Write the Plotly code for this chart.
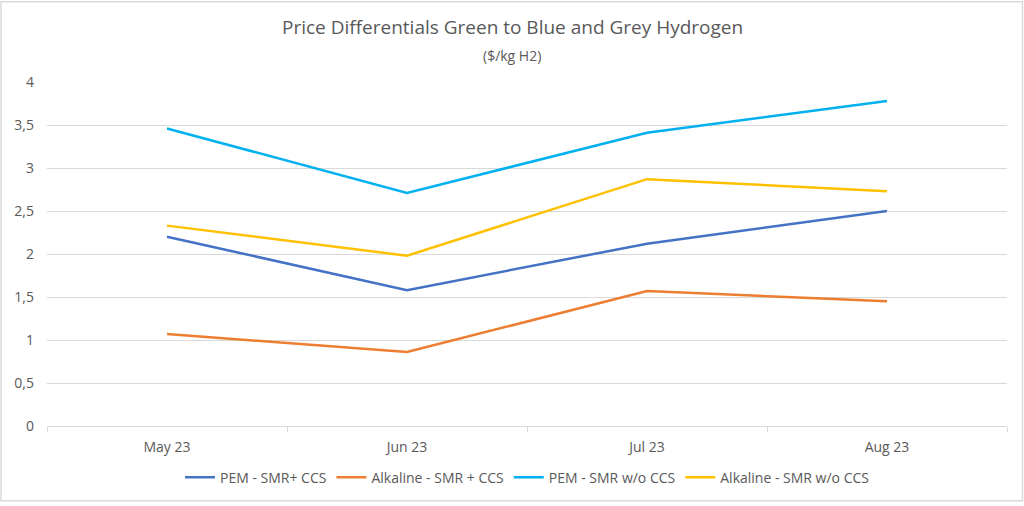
import plotly.graph_objects as go

months = ["May 23", "Jun 23", "Jul 23", "Aug 23"]
pem_ccs = [2.20, 1.58, 2.12, 2.50]
alk_ccs = [1.07, 0.86, 1.57, 1.45]
pem_wo = [3.46, 2.71, 3.41, 3.78]
alk_wo = [2.33, 1.98, 2.87, 2.73]

series = [
    ("PEM - SMR+ CCS", pem_ccs, "#4472C4"),
    ("Alkaline - SMR + CCS", alk_ccs, "#ED7D31"),
    ("PEM - SMR w/o CCS", pem_wo, "#00B0F0"),
    ("Alkaline - SMR w/o CCS", alk_wo, "#FFC000"),
]

W, H = 1024, 506
L, R, T, B = 47, 17, 82, 77
pw, ph = W - L - R, H - T - B

fig = go.Figure()
for name, vals, col in series:
    fig.add_trace(go.Scatter(x=months, y=vals, name=name, mode="lines",
                             line=dict(color=col, width=2.5)))

font = "Open Sans, Liberation Sans, sans-serif"
fig.update_layout(
    width=W, height=H,
    margin=dict(l=L, r=R, t=T, b=B),
    paper_bgcolor="white", plot_bgcolor="white",
    separators=", ",
    font=dict(family=font, color="#595959", size=14),
    showlegend=True,
    legend=dict(orientation="h", x=0.5, xanchor="center",
                y=-(481 - 429) / ph, yanchor="middle",
                font=dict(size=14, color="#595959"), itemwidth=30,
                tracegroupgap=0),
    xaxis=dict(type="category", range=[-0.5, 3.5], showgrid=False, showline=True,
               linecolor="#D9D9D9", linewidth=1, ticks="outside",
               tickson="boundaries", ticklen=5, tickcolor="#D9D9D9",
               ticklabelstandoff=8,
               tickfont=dict(size=14, color="#595959"), fixedrange=True),
    yaxis=dict(range=[0, 4], dtick=0.5, showgrid=True, gridcolor="#D9D9D9",
               gridwidth=1, zeroline=False, showline=False,
               tickfont=dict(size=14, color="#595959"), ticklabelstandoff=12),
    annotations=[
        dict(text="Price Differentials Green to Blue and Grey Hydrogen",
             xref="paper", yref="paper", x=(512 - L) / pw, y=1 + (T - 27) / ph,
             xanchor="center", yanchor="middle", showarrow=False,
             font=dict(size=19, color="#595959", family=font)),
        dict(text="($/kg H2)",
             xref="paper", yref="paper", x=(512 - L) / pw, y=1 + (T - 55) / ph,
             xanchor="center", yanchor="middle", showarrow=False,
             font=dict(size=14, color="#595959", family=font)),
    ],
    shapes=[
        dict(type="rect", xref="paper", yref="paper",
             x0=-(L - 1) / pw, x1=1 + (R - 1.5) / pw,
             y0=-(B - 1.5) / ph, y1=1 + (T - 1) / ph,
             line=dict(color="#D9D9D9", width=1.5), layer="below"),
    ],
)

fig.write_html("out.html")
